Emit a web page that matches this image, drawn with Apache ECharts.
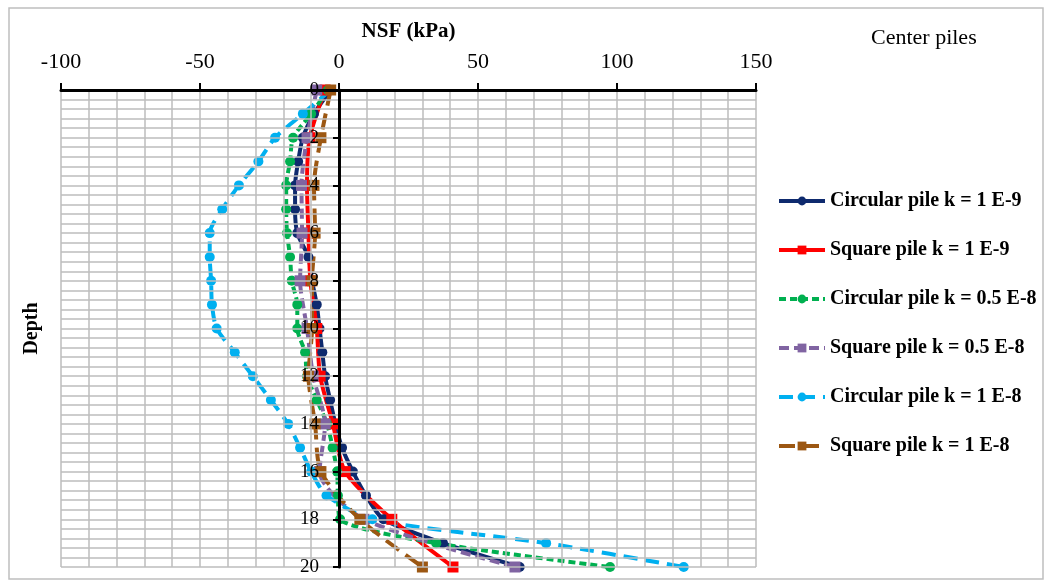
<!DOCTYPE html>
<html>
<head>
<meta charset="utf-8">
<script src="https://cdn.jsdelivr.net/npm/echarts@6/dist/echarts.min.js"></script>
<style>
html,body{margin:0;padding:0;background:#fff;}
#chart{width:1053px;height:586px;}
</style>
</head>
<body>
<div id="chart"></div>
<script>
// Depths (m)
const depthsAll = [0,1,2,3,4,5,6,7,8,9,10,11,12,13,14,15,16,17,18,19,20];
const depthsEven = [0,2,4,6,8,10,12,14,16,18,20];
// NSF values (kPa)
const circular1E9 = [-3,-9,-13,-14.7,-15.8,-15.8,-15,-11,-9.7,-8,-7,-6,-5,-3.2,-1.3,1.1,5,9.7,16,37.4,65];
const square1E9 = [-5,-10.5,-11.5,-11,-10.3,-8,-6.8,-2.2,2.2,19,41];
const circular05E8 = [-4,-10,-16.5,-17.6,-19,-19,-18.7,-17.6,-17,-15,-15,-12.2,-11.5,-8,-4.3,-2.3,-0.7,-0.4,0.4,35,97.5];
const square05E8 = [-8,-11.5,-13.5,-13.3,-14,-11.5,-9.3,-5,-7,9,63.3];
const circular1E8 = [-3,-13,-23,-29,-36,-42,-46.5,-46.5,-46,-45.7,-44,-37.5,-31,-24.5,-18.3,-14,-10,-4.5,12,74.5,124];
const square1E8 = [-3,-6.5,-9,-8.6,-9.7,-9.7,-11,-8.6,-6.5,7.5,30];
const seriesNames = ['Circular pile k = 1 E-9','Square pile k = 1 E-9','Circular pile k = 0.5 E-8','Square pile k = 0.5 E-8','Circular pile k = 1 E-8','Square pile k = 1 E-8'];

const pairs = (vals, deps) => vals.map((v,i)=>[v, deps[i]]);
const FONT = "'Liberation Serif','Times New Roman',serif";

function mk(name, data, color, symbol, size, dash){
  return {
    name: name, type:'line', data: data, smooth: 0.25,
    symbol: symbol, symbolSize: size, showSymbol:true,
    lineStyle:{color:color, width:4, type: dash},
    itemStyle:{color:color, borderWidth:0},
    emphasis:{disabled:true}, animation:false, z: 3
  };
}

const X_MIN = -100, X_MAX = 150;
const GRID_LEFT = 61, GRID_RIGHT = 297, CHART_W = 1053;
const plotW = CHART_W - GRID_LEFT - GRID_RIGHT;

const chart = echarts.init(document.getElementById('chart'));
chart.setOption({
  animation:false,
  backgroundColor:'#fff',
  title:{text:'Center piles', left:866, top:22,
    textStyle:{fontFamily:FONT, fontSize:22, fontWeight:'normal', color:'#000'}},
  graphic:[{type:'rect', shape:{x:9, y:8, width:1034, height:571},
    style:{fill:'none', stroke:'#BFBFBF', lineWidth:1.5}, silent:true, z:-10}],
  grid:{left:GRID_LEFT, right:GRID_RIGHT, top:90, bottom:19, containLabel:false, outerBoundsMode:'none'},
  legend:{
    orient:'vertical', left:772, top:186, itemWidth:46, itemHeight:11, itemGap:29,
    lineStyle:{width:4},
    textStyle:{fontFamily:FONT, fontSize:20, fontWeight:'bold', color:'#000'},
    data: seriesNames
  },
  xAxis:{
    type:'value', position:'top', min:X_MIN, max:X_MAX, interval:50, z:10,
    name:'NSF (kPa)', nameLocation:'middle', nameGap:48, nameMoveOverlap:false,
    nameTextStyle:{fontFamily:FONT, fontSize:21, fontWeight:'bold', color:'#000'},
    axisLine:{show:true, onZero:false, lineStyle:{color:'#000', width:3}},
    axisTick:{show:true, inside:false, length:7, lineStyle:{color:'#000', width:2}},
    axisLabel:{fontFamily:FONT, fontSize:22, color:'#000', margin:17},
    splitLine:{show:true, lineStyle:{color:'#BDBDBD', width:1.5}},
    minorTick:{show:false, splitNumber:5},
    minorSplitLine:{show:true, lineStyle:{color:'#BDBDBD', width:1.5}}
  },
  yAxis:{
    type:'value', inverse:true, min:0, max:20, interval:2, z:10,
    position:'left', offset: -plotW * (0 - X_MIN) / (X_MAX - X_MIN),
    name:'Depth', nameLocation:'middle', nameGap:297, nameRotate:90, nameMoveOverlap:false,
    nameTextStyle:{fontFamily:FONT, fontSize:20, fontWeight:'bold', color:'#000'},
    axisLine:{show:true, onZero:false, lineStyle:{color:'#000', width:3}},
    axisTick:{show:true, inside:false, length:6, lineStyle:{color:'#000', width:2}},
    axisLabel:{fontFamily:FONT, fontSize:19, color:'#000', margin:20},
    splitLine:{show:true, lineStyle:{color:'#BDBDBD', width:1.5}},
    minorTick:{show:false, splitNumber:5},
    minorSplitLine:{show:true, lineStyle:{color:'#BDBDBD', width:1.5}}
  },
  series:[
    mk(seriesNames[0], pairs(circular1E9, depthsAll), '#0E2A6E', 'circle', 10, 'solid'),
    mk(seriesNames[1], pairs(square1E9, depthsEven), '#FF0000', 'rect', 11, 'solid'),
    mk(seriesNames[2], pairs(circular05E8, depthsAll), '#00B050', 'circle', 10, [7,4]),
    mk(seriesNames[3], pairs(square05E8, depthsEven), '#8064A2', 'rect', 11, [10,5]),
    mk(seriesNames[4], pairs(circular1E8, depthsAll), '#00B0F0', 'circle', 10, [14,8]),
    mk(seriesNames[5], pairs(square1E8, depthsEven), '#9C5712', 'rect', 11, [16,8])
  ]
});
</script>
</body>
</html>
